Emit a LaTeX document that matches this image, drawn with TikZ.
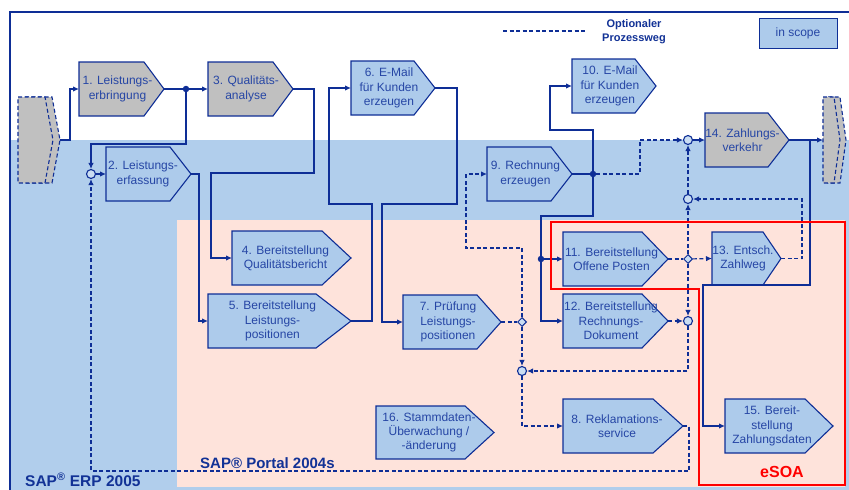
\documentclass[tikz,border=0pt]{standalone}
\usepackage{fontspec}
\setmainfont{Liberation Sans}
\usetikzlibrary{arrows.meta,shapes.geometric}
\definecolor{erpblue}{RGB}{177,206,236}
\definecolor{portalpink}{RGB}{254,227,219}
\definecolor{nodeblue}{RGB}{173,203,235}
\definecolor{nodegray}{RGB}{192,192,192}
\definecolor{linecol}{RGB}{14,46,150}
\definecolor{txtblue}{RGB}{38,70,165}
\definecolor{titleblue}{RGB}{18,50,150}
\definecolor{esoared}{RGB}{255,0,0}
\tikzset{
  chevframe/.style={rectangle, inner sep=0pt, outer sep=0pt},
  chevline/.style={draw=linecol, line width=1.1pt, line join=miter},
  chevtext/.style={align=center, text=txtblue, font=\fontsize{12}{14.3}\selectfont, inner sep=0pt},
  conn/.style={draw=linecol, line width=1.2pt},
  optline/.style={dash pattern=on 4pt off 2.5pt},
  flowarrow/.style={-{Latex[length=6pt,width=5.5pt]}},
  dotj/.style={circle, fill=linecol, inner sep=0pt, minimum size=6.5pt},
  circj/.style={circle, draw=linecol, line width=1.1pt, fill=white!35!nodeblue, inner sep=0pt, minimum size=9pt},
  diaj/.style={diamond, draw=linecol, line width=1pt, fill=white!35!nodeblue, inner sep=0pt, minimum size=9pt},
}
% #1 name #2 left #3 top #4 bottom #5 rect right #6 tip #7 fill #8 text x #9 text
\newcommand\chev[9]{%
  \node[chevframe, minimum width={(#6-#2)*1pt}, minimum height={(#4-#3)*1pt}] (#1) at ({(#2+#6)/2},{(#3+#4)/2}) {};
  \draw[chevline, fill=#7] (#2,#3) -- (#5,#3) -- (#1.east) -- (#5,#4) -- (#2,#4) -- cycle;
  \node[chevtext] (#1t) at (#8,{(#3+#4)/2}) {#9};
}
\begin{document}
\begin{tikzpicture}[x=1pt,y=-1pt]
\useasboundingbox (0,0) rectangle (849,490);
\clip (0,0) rectangle (849,490);
\fill[white] (0,0) rectangle (849,490);
% regions
\fill[erpblue] (10,140) rectangle (849,490);
\fill[portalpink] (177,220) rectangle (845,487);
\draw[linecol, line width=1.5pt] (10,492) -- (10,12) -- (851,12);

% legend
\coordinate (lg1) at (503,31);
\coordinate (lg2) at (586,31);
\draw[conn, optline] (lg1) -- (lg2);
\node[align=center, text=titleblue, font=\fontsize{11}{14}\selectfont\bfseries, inner sep=0pt] (legtxt) at (634,32) {Optionaler\\Prozessweg};
\node[draw=linecol, line width=1pt, fill=nodeblue, minimum width=78pt, minimum height=30pt, inner sep=0pt, text=txtblue, font=\fontsize{12}{14}\selectfont] (scope) at (798,33) {in scope};

% stubs
\draw[chevline, optline, fill=nodegray] (25,97) -- (52,97) -- (60,140) -- (52,183) -- (25,183) -- cycle;
\draw[chevline, optline, fill=nodegray] (18,97) -- (45,97) -- (53,140) -- (45,183) -- (18,183) -- cycle;
\node[chevframe, minimum width=42pt, minimum height=86pt] (stubL) at (39,140) {};
\draw[chevline, optline, fill=nodegray] (828,97) -- (840,97) -- (846,140) -- (840,183) -- (828,183) -- cycle;
\draw[chevline, optline, fill=nodegray] (823,97) -- (834,97) -- (840,140) -- (834,183) -- (823,183) -- cycle;
\node[chevframe, minimum width=23pt, minimum height=86pt] (stubR) at (834.5,140) {};

% process steps
\chev{n1}{79}{62}{116}{144}{164}{nodegray}{117.5}{1. Leistungs-\\erbringung}
\chev{n3}{208}{62}{116}{273}{293}{nodegray}{246}{3. Qualitäts-\\analyse}
\chev{n2}{106}{147}{201}{170}{191}{nodeblue}{143}{2. Leistungs-\\erfassung}
\chev{n6}{351}{61}{115}{414}{435}{nodeblue}{389}{6. E-Mail\\für Kunden\\erzeugen}
\chev{n9}{487}{147}{201}{551}{572}{nodeblue}{525.5}{9. Rechnung\\erzeugen}
\chev{n10}{572}{59}{113}{635}{656}{nodeblue}{610}{10. E-Mail\\für Kunden\\erzeugen}
\chev{n14}{705}{113}{167}{768}{789}{nodegray}{742.5}{14. Zahlungs-\\verkehr}
\chev{n4}{232}{231}{285}{322}{351}{nodeblue}{285.5}{4. Bereitstellung\\Qualitätsbericht}
\chev{n5}{208}{294}{348}{316}{351}{nodeblue}{272.5}{5. Bereitstellung\\Leistungs-\\positionen}
\chev{n7}{403}{295}{349}{477}{501}{nodeblue}{448}{7. Prüfung\\Leistungs-\\positionen}
\chev{n11}{563}{232}{286}{642}{668}{nodeblue}{611.5}{11. Bereitstellung\\Offene Posten}
\chev{n12}{563}{294}{348}{642}{668}{nodeblue}{611}{12. Bereitstellung\\Rechnungs-\\Dokument}
\chev{n13}{712}{232}{285}{763}{781}{nodeblue}{743}{13. Entsch.\\Zahlweg}
\chev{n8}{563}{399}{453}{653}{683}{nodeblue}{617}{8. Reklamations-\\service}
\chev{n15}{725}{399}{453}{805}{833}{nodeblue}{772}{15. Bereit-\\stellung\\Zahlungsdaten}
\chev{n16}{376}{406}{459}{465}{494}{nodeblue}{429}{16. Stammdaten-\\Überwachung /\\-änderung}

% junctions
\node[dotj] (d1) at (186,89) {};
\node[dotj] (d2) at (593,174) {};
\node[dotj] (d3) at (541,259) {};
\node[circj] (c1) at (91,174) {};
\node[circj] (c2) at (522,371) {};
\node[circj] (c3) at (688,321) {};
\node[circj] (c4) at (688,140) {};
\node[circj] (c5) at (688,199) {};
\node[diaj] (dm1) at (522,322) {};
\node[diaj] (dm2) at (688,259) {};

% connectors
\draw[conn, flowarrow] (stubL.east) -- (70,140) -- (70,89) -- (n1.west);
\draw[conn] (n1.east) -- (d1);
\draw[conn, flowarrow] (d1) -- (n3.west);
\draw[conn, flowarrow] (d1) -- (186,144) -- (91,144) -- (c1);
\draw[conn, flowarrow] (c1) -- (n2.west);
\draw[conn, flowarrow] (n2.east) -- (199,174) -- (199,321) -- (n5.west);
\draw[conn, flowarrow] (n3.east) -- (314,89) -- (314,173) -- (211,173) -- (211,258) -- (n4.west);
\draw[conn, flowarrow] (n5.east) -- (372,321) -- (372,204) -- (329,204) -- (329,88) -- (n6.west);
\draw[conn, flowarrow] (n6.east) -- (457,88) -- (457,204) -- (382,204) -- (382,322) -- (n7.west);
\draw[conn, optline] (n7.east) -- (dm1);
\draw[conn, optline, flowarrow] (dm1) -- (522,248) -- (466,248) -- (466,174) -- (n9.west);
\draw[conn, optline, flowarrow] (dm1) -- (c2);
\draw[conn, optline, flowarrow] (c3) -- (688,371) -- (c2);
\draw[conn, optline, flowarrow] (c2) -- (522,426) -- (n8.west);
\draw[conn, optline, flowarrow] (n8.east) -- (689,426) -- (689,471) -- (91,471) -- (c1);
\draw[conn] (n9.east) -- (d2);
\draw[conn, flowarrow] (d2) -- (593,130) -- (550,130) -- (550,86) -- (n10.west);
\draw[conn] (d2) -- (593,216) -- (541,216) -- (d3);
\draw[conn, flowarrow] (d3) -- (n11.west);
\draw[conn, flowarrow] (d3) -- (541,321) -- (n12.west);
\draw[conn, optline, flowarrow] (d2) -- (640,174) -- (640,140) -- (c4);
\draw[conn, flowarrow] (c4) -- (n14.west);
\draw[conn, optline, flowarrow] (c5) -- (c4);
\draw[conn, optline, flowarrow] (n13.east) -- (802,258.5) -- (802,199) -- (c5);
\draw[conn, optline] (n11.east) -- (dm2);
\draw[conn, optline, flowarrow] (dm2) -- (n13.west);
\draw[conn, optline, flowarrow] (dm2) -- (c5);
\draw[conn, optline, flowarrow] (dm2) -- (c3);
\draw[conn, optline, flowarrow] (n12.east) -- (c3);
\draw[conn, flowarrow] (n14.east) -- (stubR.west);
\coordinate (j1) at (810,140);
\draw[conn, flowarrow] (j1) -- (810,285) -- (703,285) -- (703,426) -- (n15.west);

% titles
\node[anchor=base west, text=titleblue, font=\fontsize{15}{18}\selectfont\bfseries, inner sep=0pt] (portal) at (200,468) {SAP® Portal 2004s};
\node[anchor=base west, text=titleblue, font=\fontsize{15.5}{18}\selectfont\bfseries, inner sep=0pt] (erp) at (25,486) {SAP\textsuperscript{®} ERP 2005};

% eSOA frame
\draw[esoared, line width=2.6pt, line join=miter] (551,222) -- (845,222) -- (845,485) -- (699,485) -- (699,289) -- (551,289) -- cycle;
\node[anchor=base, text=esoared, font=\fontsize{16}{18}\selectfont\bfseries, inner sep=0pt] (esoa) at (782,477) {eSOA};
\end{tikzpicture}
\end{document}
